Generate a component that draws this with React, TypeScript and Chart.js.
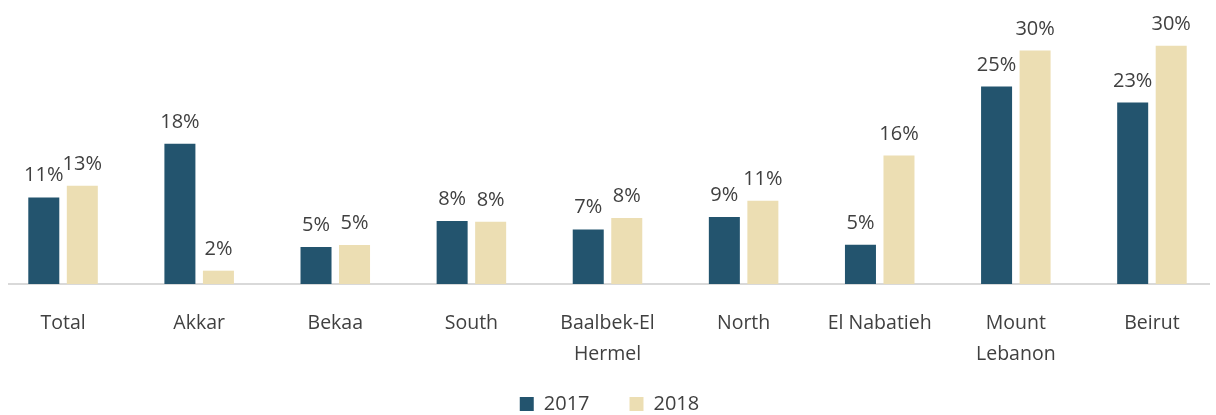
import React, { useEffect, useRef } from "react";
import { Chart, registerables } from "chart.js";

Chart.register(...registerables);

const categories: (string | string[])[] = [
  "Total",
  "Akkar",
  "Bekaa",
  "South",
  ["Baalbek-El", "Hermel"],
  "North",
  "El Nabatieh",
  ["Mount", "Lebanon"],
  "Beirut",
];
const values2017 = [11.05, 17.9, 4.72, 8.04, 6.96, 8.55, 5.01, 25.2, 23.16];
const values2018 = [12.54, 1.7, 4.97, 7.95, 8.42, 10.63, 16.4, 29.8, 30.4];
const seriesNames = ["2017", "2018"];
const seriesColors = ["#23546e", "#ecdeb3"];

const FONT = "'Open Sans', 'DejaVu Sans', sans-serif";
const TEXT_COLOR = "#404040";

const valueLabels = {
  id: "valueLabels",
  afterDatasetsDraw(chart: any) {
    const ctx = chart.ctx;
    ctx.save();
    ctx.font = `20px ${FONT}`;
    ctx.fillStyle = TEXT_COLOR;
    ctx.textAlign = "center";
    ctx.textBaseline = "alphabetic";
    chart.data.datasets.forEach((ds: any, di: number) => {
      chart.getDatasetMeta(di).data.forEach((bar: any, i: number) => {
        ctx.fillText(Math.round(ds.data[i]) + "%", bar.x, bar.y - 16);
      });
    });
    ctx.restore();
  },
};

// Pull the legend row up a little so it sits closer to the axis labels.
const legendShift = {
  id: "legendShift",
  afterLayout(chart: any) {
    if (chart.legend) {
      chart.legend.top -= 16;
      chart.legend.bottom -= 16;
      chart.legend.left += 2;
      chart.legend.right += 2;
    }
  },
};

export default function App() {
  const ref = useRef<HTMLCanvasElement | null>(null);

  useEffect(() => {
    if (!ref.current) return;
    const chart = new Chart(ref.current, {
      type: "bar",
      data: {
        labels: categories,
        datasets: [
          {
            label: seriesNames[0],
            data: values2017,
            backgroundColor: seriesColors[0],
            barPercentage: 0.805,
            categoryPercentage: 0.566,
          },
          {
            label: seriesNames[1],
            data: values2018,
            backgroundColor: seriesColors[1],
            barPercentage: 0.805,
            categoryPercentage: 0.566,
          },
        ],
      },
      options: {
        responsive: false,
        animation: false,
        layout: { padding: { top: 2, left: 0, right: 0, bottom: 0 } },
        plugins: {
          tooltip: { enabled: false },
          legend: {
            position: "bottom",
            labels: {
              boxWidth: 14,
              boxHeight: 14,
              padding: 40,
              color: TEXT_COLOR,
              font: { size: 20, family: FONT },
            },
          },
        },
        scales: {
          x: {
            grid: { display: false, drawTicks: false },
            border: { display: true, color: "#d9d9d9", width: 2 },
            ticks: {
              color: TEXT_COLOR,
              font: { size: 19.5, family: FONT, lineHeight: 31 / 19.5 },
              padding: 24,
              maxRotation: 0,
              autoSkip: false,
            },
            afterFit: (s: any) => {
              s.height = 86;
            },
          },
          y: {
            display: false,
            min: 0,
            max: 36,
          },
        },
      },
      plugins: [valueLabels, legendShift],
    });
    return () => chart.destroy();
  }, []);

  return (
    <div
      style={{
        position: "fixed",
        left: 8,
        top: 0,
        width: 1202,
        height: 415,
        overflow: "hidden",
        background: "#ffffff",
      }}
    >
      <div style={{ position: "absolute", left: -13, top: 0, width: 1225, height: 440 }}>
        <canvas ref={ref} width={1225} height={440} />
      </div>
    </div>
  );
}
